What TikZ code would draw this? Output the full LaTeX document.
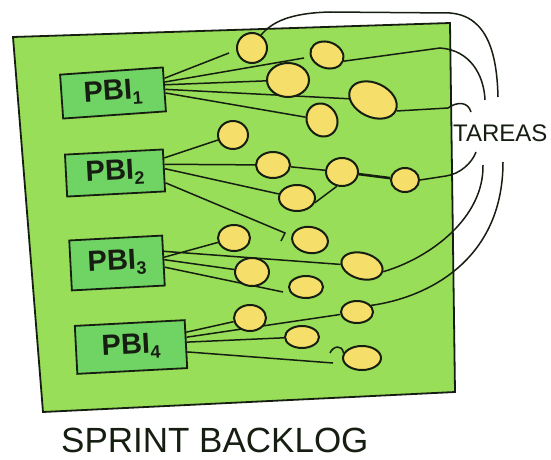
\documentclass[tikz,border=0pt]{standalone}
\usepackage{fontspec}
\setmainfont{Liberation Sans}
\usetikzlibrary{shapes.geometric,backgrounds,calc}
\definecolor{board}{RGB}{152,222,88}
\definecolor{boxg}{RGB}{112,212,100}
\definecolor{egg}{RGB}{245,222,105}
\definecolor{ink}{RGB}{22,30,18}
\newcommand{\pbisub}[1]{\raisebox{-0.35ex}{\fontsize{18}{18}\selectfont #1}}
\begin{document}
\begin{tikzpicture}[x=1pt,y=-1pt,
  pbi/.style={draw=ink,line width=1.8pt,fill=boxg,inner sep=0pt,text=ink,font=\bfseries\fontsize{29}{29}\selectfont},
  task/.style={ellipse,draw=ink,line width=2pt,fill=egg,inner sep=0pt},
  link/.style={draw=ink,line width=1.5pt},
  lbl/.style={text=ink,inner sep=0pt}]
\useasboundingbox (0,0) rectangle (551,460);

% PBI boxes
\node[pbi,minimum width=103pt,minimum height=44pt,rotate=4] (p1) at (113,93) {PBI\pbisub{1}};
\node[pbi,minimum width=98pt,minimum height=42pt,rotate=3] (p2) at (115,173) {PBI\pbisub{2}};
\node[pbi,minimum width=93pt,minimum height=50pt,rotate=3] (p3) at (117,263) {PBI\pbisub{3}};
\node[pbi,minimum width=110pt,minimum height=48pt,rotate=3] (p4) at (131,347) {PBI\pbisub{4}};

% tasks
\node[task,minimum width=30pt,minimum height=30pt] (e1) at (252,48) {};
\node[task,minimum width=34pt,minimum height=26pt,rotate=-20] (e2) at (327,55) {};
\node[task,minimum width=42pt,minimum height=34pt] (e3) at (288,80) {};
\node[task,minimum width=50pt,minimum height=34pt,rotate=-25] (e4) at (373,100) {};
\node[task,minimum width=34pt,minimum height=30pt,rotate=-60] (e5) at (322,120) {};

\node[task,minimum width=30pt,minimum height=28pt] (f1) at (233,135) {};
\node[task,minimum width=34pt,minimum height=26pt] (f2) at (273,165) {};
\node[task,minimum width=32pt,minimum height=28pt] (f3) at (342,172) {};
\node[task,minimum width=28pt,minimum height=24pt] (f4) at (405,180) {};
\node[task,minimum width=36pt,minimum height=26pt] (f5) at (297,198) {};
\node[task,minimum width=36pt,minimum height=26pt,rotate=-10] (f6) at (310,240) {};

\node[task,minimum width=32pt,minimum height=26pt] (g1) at (234,238) {};
\node[task,minimum width=34pt,minimum height=28pt] (g2) at (252,272) {};
\node[task,minimum width=42pt,minimum height=26pt,rotate=-15] (g3) at (362,266) {};
\node[task,minimum width=34pt,minimum height=22pt] (g4) at (306,287) {};

\node[task,minimum width=32pt,minimum height=26pt] (h1) at (250,318) {};
\node[task,minimum width=32pt,minimum height=22pt] (h2) at (357,312) {};
\node[task,minimum width=34pt,minimum height=22pt] (h3) at (302,337) {};
\node[task,minimum width=38pt,minimum height=24pt] (h4) at (362,358) {};

% labels
\node[lbl,anchor=west,font=\fontsize{24}{24}\selectfont] (tareas) at (453,133) {TAREAS};
\node[lbl,anchor=base west,font=\fontsize{35}{35}\selectfont] (title) at (61,452) {SPRINT BACKLOG};

% free ends
\coordinate (c1) at (229,53);
\coordinate (c2) at (304,58);
\coordinate (c3) at (285,233);
\coordinate (c4) at (283,292);
\coordinate (c5) at (333,363);
\coordinate (c6) at (330,353);
\coordinate (tA) at (498,97);
\coordinate (tB) at (485,100);
\coordinate (tC) at (471,112);
\coordinate (tD) at (476,152);
\coordinate (tE) at (483,165);
\coordinate (tF) at (503,162);

\begin{scope}[on background layer]
\filldraw[fill=board,draw=ink,line width=1.8pt] (13,37) -- (450,23) -- (455,392) -- (43,412) -- cycle;

% PBI 1
\draw[link] (p1.12) -- (c1);
\draw[link] (p1.8) -- (c2);
\draw[link] (p1.5) -- (e3);
\draw[link] (p1.0) -- (e4);
\draw[link] (p1.-4) -- (e5);
% PBI 2
\draw[link] (p2.14) -- (f1);
\draw[link] (p2.7) -- (f2);
\draw[link] (f2) -- (f3);
\draw[link,line width=2.6pt] (f3) -- (f4);
\draw[link] (p2.2) -- (f5);
\draw[link] (f5.-15) -- (f3.-110);
\draw[link] (p2.-14) -- (c3) -- ++(-4,8);
% PBI 3
\draw[link] (p3.4) -- (g1);
\draw[link] (p3.11) -- (g3);
\draw[link] (p3.1) -- (g2);
\draw[link] (p3.-8) -- (c4);
% PBI 4
\draw[link] (p4.12) -- (h1);
\draw[link] (p4.7) -- (h2);
\draw[link] (p4.2) -- (h3);
\draw[link] (p4.-8) -- (c5);
\draw[link] (c6) .. controls (333,346) and (342,344) .. (h4.165);

% to TAREAS
\draw[link] (e1.55) .. controls (272,22) and (290,13) .. (330,12) -- (450,13) .. controls (488,16) and (497,55) .. (tA);
\draw[link] (e2.east) -- (440,48) .. controls (470,50) and (484,75) .. (tB);
\draw[link] (e4.east) -- (448,108) .. controls (458,101) and (468,102) .. (tC);
\draw[link] (f4.east) -- (446,176) .. controls (460,174) and (472,163) .. (tD);
\draw[link] (g3.east) .. controls (430,258) and (484,218) .. (tE);
\draw[link] (h2.25) .. controls (425,298) and (503,262) .. (tF);
\end{scope}
\end{tikzpicture}
\end{document}
